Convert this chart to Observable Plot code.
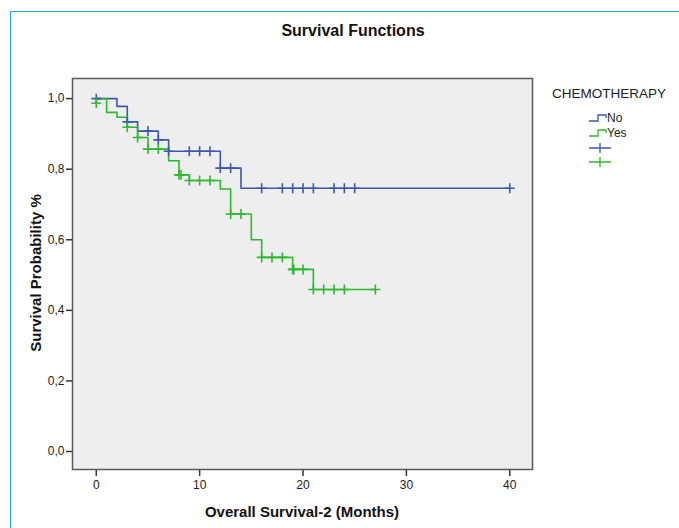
<!DOCTYPE html>
<html>
<head>
<meta charset="utf-8">
<script src="https://cdn.jsdelivr.net/npm/d3@7"></script>
<script src="https://cdn.jsdelivr.net/npm/@observablehq/plot@0.6"></script>
<style>
  html, body { margin: 0; padding: 0; background: #fff; }
  #wrap { position: relative; width: 679px; height: 528px; overflow: hidden; font-family: "Liberation Sans", Arial, sans-serif; }
  #border { position: absolute; left: 10px; top: 11px; width: 700px; height: 600px; border-left: 1.5px solid #27a8e0; border-top: 1.5px solid #27a8e0; }
  #title { position: absolute; left: 0; width: 706px; top: 22px; text-align: center; font-weight: bold; font-size: 16px; color: #111; }
  #xlabel { position: absolute; left: 0; width: 604px; top: 503px; text-align: center; font-weight: bold; font-size: 15px; color: #111; }
  #ylabel { position: absolute; left: 35px; top: 273px; transform: translate(-50%, -50%) rotate(-90deg); white-space: nowrap; font-weight: bold; font-size: 15px; color: #111; }
  #chart { position: absolute; left: 0; top: 0; }
  #legend { position: absolute; left: 0; top: 0; }
</style>
</head>
<body>
<div id="wrap">
  <div id="border"></div>
  <div id="chart"></div>
  <div id="title">Survival Functions</div>
  <div id="xlabel">Overall Survival-2 (Months)</div>
  <div id="ylabel">Survival Probability %</div>
  <svg id="legend" width="679" height="528"></svg>
</div>
<script>
// ---- data ----
const groups = ["No", "Yes"];
const groupColors = ["#3e58ac", "#2eb82e"];
const legendTitle = "CHEMOTHERAPY";

// Kaplan-Meier step points (time in months, survival)
const noTimes = [0, 2, 3, 4, 6, 7, 12, 14, 40];
const noSurv  = [1.0, 0.978, 0.934, 0.908, 0.883, 0.851, 0.803, 0.746, 0.746];
const yesTimes = [0, 1, 2, 3, 4, 5, 7, 8, 9, 12, 13, 15, 16, 19, 21, 27];
const yesSurv  = [1.0, 0.961, 0.947, 0.919, 0.890, 0.857, 0.824, 0.784, 0.768, 0.744, 0.673, 0.600, 0.550, 0.516, 0.459, 0.459];

// Censored observations
const noCensorTimes = [0, 3, 5, 6, 7, 9, 10, 11, 12, 13, 16, 18, 19, 20, 21, 23, 24, 25, 40];
const noCensorSurv  = [1.0, 0.934, 0.908, 0.883, 0.851, 0.851, 0.851, 0.851, 0.803, 0.803, 0.746, 0.746, 0.746, 0.746, 0.746, 0.746, 0.746, 0.746, 0.746];
const yesCensorTimes = [0, 3, 4, 5, 6, 8, 8.2, 9, 10, 11, 13, 14, 16, 17, 18, 19, 19.1, 20, 21, 22, 23, 24, 27];
const yesCensorSurv  = [0.987, 0.919, 0.890, 0.857, 0.857, 0.784, 0.784, 0.768, 0.768, 0.768, 0.673, 0.673, 0.550, 0.550, 0.550, 0.516, 0.516, 0.516, 0.459, 0.459, 0.459, 0.459, 0.459];

const xTicks = [0, 10, 20, 30, 40];
const yTicks = [0, 0.2, 0.4, 0.6, 0.8, 1.0];

// ---- build tables ----
const steps = [
  ...noTimes.map((t, i) => ({group: "No", time: t, surv: noSurv[i]})),
  ...yesTimes.map((t, i) => ({group: "Yes", time: t, surv: yesSurv[i]}))
];
const censors = [
  ...noCensorTimes.map((t, i) => ({group: "No", time: t, surv: noCensorSurv[i]})),
  ...yesCensorTimes.map((t, i) => ({group: "Yes", time: t, surv: yesCensorSurv[i]}))
];

const chart = Plot.plot({
  width: 679,
  height: 528,
  marginLeft: 72,
  marginRight: 147,
  marginTop: 78,
  marginBottom: 59,
  style: {fontFamily: "'Liberation Sans', Arial, sans-serif", fontSize: "12px", color: "#222", background: "transparent"},
  x: {domain: [-2.3, 42.2]},
  y: {domain: [-0.051, 1.057]},
  color: {domain: groups, range: groupColors},
  marks: [
    Plot.frame({fill: "#eeeeee", stroke: null}),
    Plot.axisX({ticks: xTicks, tickSize: 7, tickPadding: 4, tickFormat: d => String(d), label: null, strokeWidth: 1.5, stroke: "#333"}),
    Plot.axisY({ticks: yTicks, tickSize: 6, tickPadding: 2, tickFormat: d => d.toFixed(1).replace(".", ","), label: null, strokeWidth: 1.5, stroke: "#333"}),
    Plot.line(steps, {x: "time", y: "surv", z: "group", stroke: "group", curve: "step-after", strokeWidth: 1.6}),
    Plot.dot(censors, {x: "time", y: "surv", stroke: "group", symbol: "plus", r: 3.3, strokeWidth: 1.6}),
    Plot.frame({stroke: "#5a5a5a", strokeWidth: 1.5})
  ]
});
document.getElementById("chart").appendChild(chart);

// ---- legend ----
const leg = d3.select("#legend");
leg.append("text").attr("x", 552).attr("y", 98).attr("font-size", 13.5).attr("fill", "#222")
  .attr("font-family", "'Liberation Sans', Arial, sans-serif").text(legendTitle);
groups.forEach((g, i) => {
  const y = 118 + i * 15;
  leg.append("path")
    .attr("d", `M589,${y + 3}H598V${y - 3}H606V${y}`)
    .attr("fill", "none").attr("stroke", groupColors[i]).attr("stroke-width", 1.3);
  leg.append("text").attr("x", 607).attr("y", y + 4).attr("font-size", 12).attr("fill", "#222")
    .attr("font-family", "'Liberation Sans', Arial, sans-serif").text(g);
  const yp = 148 + i * 14;
  leg.append("path")
    .attr("d", `M589,${yp}H611M600,${yp - 5}V${yp + 5}`)
    .attr("fill", "none").attr("stroke", groupColors[i]).attr("stroke-width", 1.3);
});
</script>
</body>
</html>
